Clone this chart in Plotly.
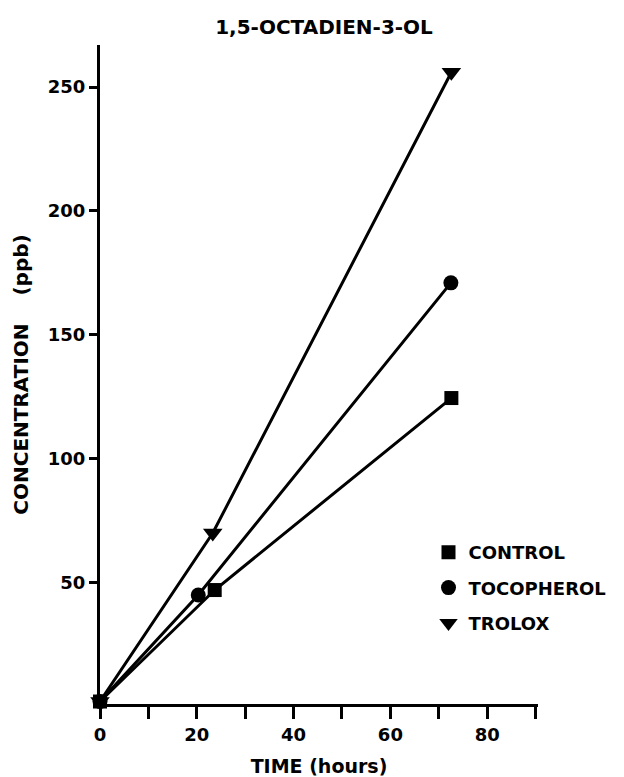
import plotly.graph_objects as go

# ---- data ----
series_names = ["CONTROL", "TOCOPHEROL", "TROLOX"]
control_time = [0, 23.7, 72.6]
control_conc = [2, 47, 124.5]
toco_time = [0, 20.3, 72.5]
toco_conc = [2, 45, 171]
trolox_time = [0, 23.3, 72.6]
trolox_conc = [2, 70, 256]
x_tick_vals = [0, 20, 40, 60, 80]
y_tick_vals = [50, 100, 150, 200, 250]

symbols = ["square", "circle", "triangle-down"]
sizes = [14, 15, 17]
data = [(control_time, control_conc), (toco_time, toco_conc), (trolox_time, trolox_conc)]

FONT = "DejaVu Sans"
fig = go.Figure()
for name, (xs, ys), sym, sz in zip(series_names, data, symbols, sizes):
    fig.add_trace(go.Scatter(
        x=xs, y=ys, mode="lines+markers", name=name, showlegend=False,
        line=dict(color="black", width=3),
        marker=dict(symbol=sym, size=sz, color="black"),
        cliponaxis=False,
    ))
for i, (name, sym, sz) in enumerate(zip(series_names, symbols, sizes)):
    fig.add_trace(go.Scatter(
        x=[None], y=[None], mode="markers", name=name, legendgroup=name,
        marker=dict(symbol=sym, size=sz, color="black"),
    ))

fig.update_layout(
    width=624, height=777,
    margin=dict(l=100, r=86, t=45, b=73, autoexpand=False),
    paper_bgcolor="white", plot_bgcolor="white",
    font=dict(family=FONT, color="black"),
    title=dict(text="1,5-OCTADIEN-3-OL", x=324/624, xanchor="center", xref="container",
               y=1 - 27/777, yanchor="middle", yref="container", automargin=False,
               font=dict(family=FONT, size=20, weight="bold", color="black")),
    legend=dict(x=0.75, y=0.258, xanchor="left", yanchor="top",
                font=dict(family=FONT, size=18, weight="bold", color="black"),
                bgcolor="rgba(0,0,0,0)", tracegroupgap=9, traceorder="grouped",
                itemsizing="trace"),
    showlegend=True,
)
fig.update_xaxes(
    range=[0, 90.5], showgrid=False, zeroline=False, automargin=False,
    showline=True, linecolor="black", linewidth=3,
    ticks="outside", ticklen=12, tickwidth=2.5, tickcolor="black",
    tickvals=x_tick_vals, ticktext=[str(v) for v in x_tick_vals],
    tickfont=dict(family=FONT, size=18, weight="bold", color="black"),
    minor=dict(ticks="outside", ticklen=12, tickwidth=2.5, tickcolor="black", dtick=10, showgrid=False),
    title=dict(text="TIME (hours)", standoff=20,
               font=dict(family=FONT, size=19, weight="bold", color="black")),
)
fig.update_yaxes(
    range=[1, 267], showgrid=False, zeroline=False, automargin=False,
    showline=True, linecolor="black", linewidth=3,
    ticks="outside", ticklen=8, tickwidth=2.5, tickcolor="black",
    tickvals=y_tick_vals, ticktext=[str(v) for v in y_tick_vals],
    tickfont=dict(family=FONT, size=18, weight="bold", color="black"),
    title=dict(text="CONCENTRATION\u00a0\u00a0\u00a0\u00a0(ppb)", standoff=14,
               font=dict(family=FONT, size=20, weight="bold", color="black")),
)
fig.write_html("out.html", config={"displayModeBar": False},
               post_script="document.body.style.margin='0px';")
